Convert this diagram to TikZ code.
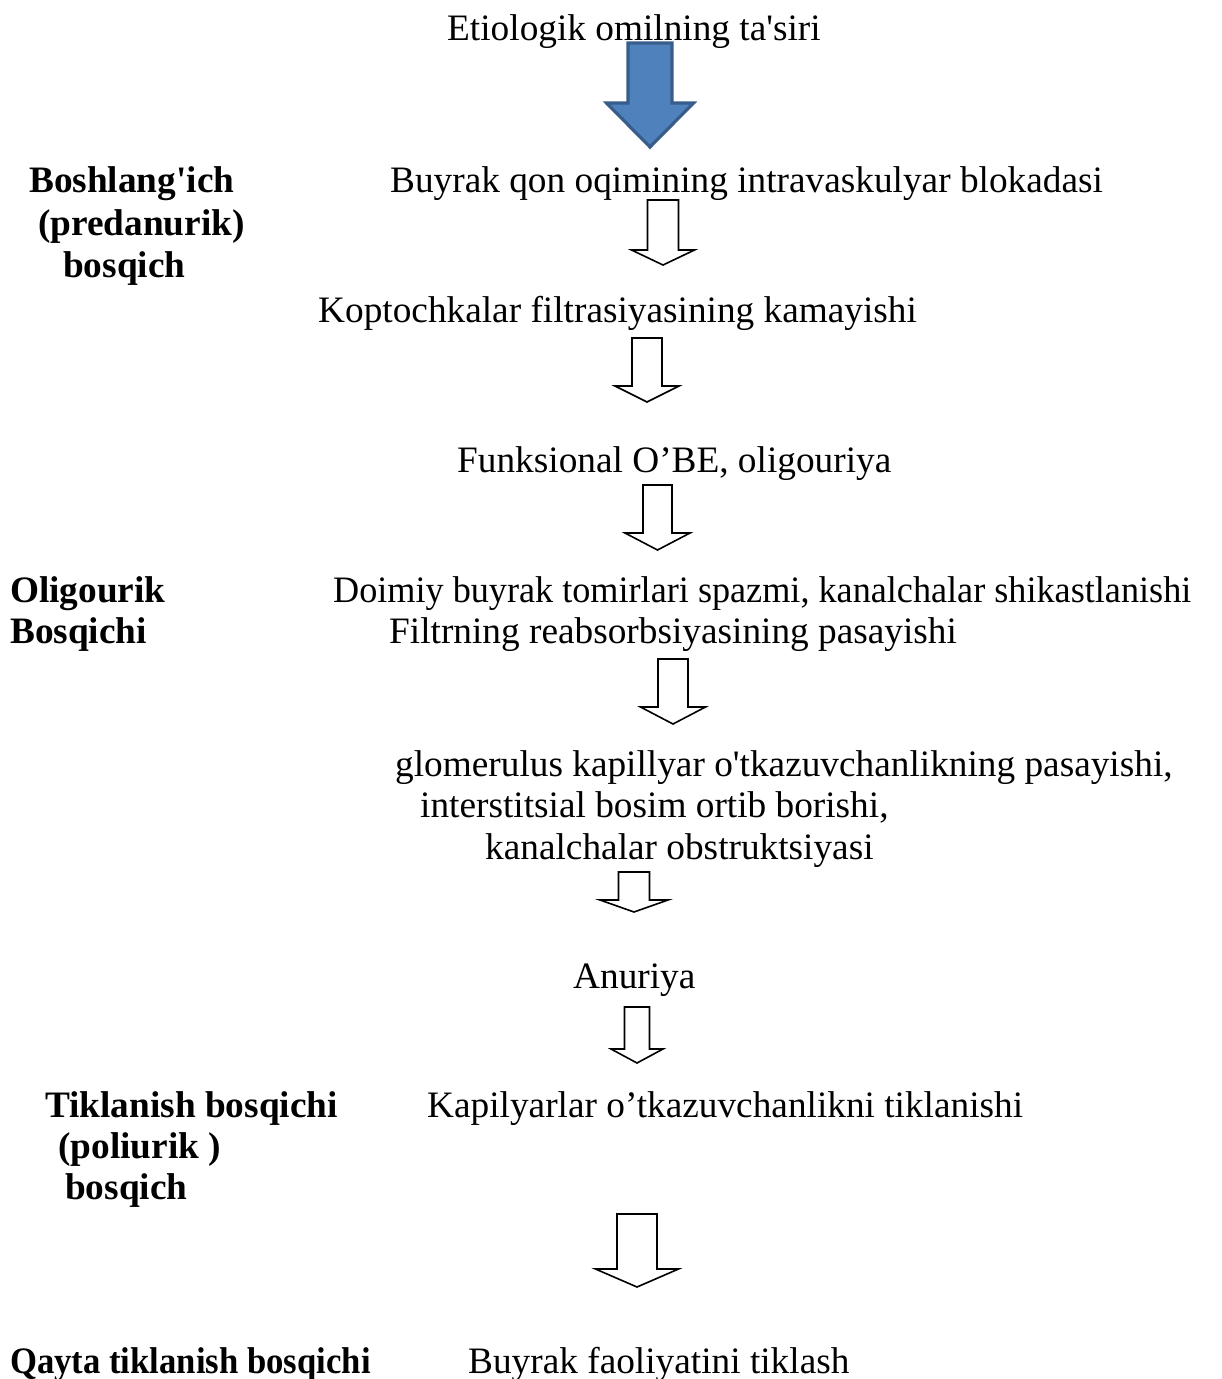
\documentclass[tikz,border=0pt]{standalone}
\usepackage{fontspec}
\setmainfont{Liberation Serif}
\begin{document}
\begin{tikzpicture}[x=1pt,y=-1pt,
  txt/.style={inner sep=0pt,anchor=base west,font=\fontsize{37.3}{42}\selectfont},
  btxt/.style={txt,font=\fontsize{37.3}{42}\selectfont\bfseries},
  barrowline/.style={draw=black,line width=1.6pt,fill=white,line join=miter},
  bluearrow/.style={draw={rgb,255:red,56;green,93;blue,138},fill={rgb,255:red,79;green,129;blue,189},line width=3.2pt,line join=miter},
  pics/barrow/.style n args={5}{code={
    % #1 shaft half width, #2 head half width, #3 head start, #4 length, #5 style
    \path[#5] (-#1,0) -- (#1,0) -- (#1,#3) -- (#2,#3) -- (0,#4) -- (-#2,#3) -- (-#1,#3) -- cycle;
  }}
]
\useasboundingbox (0,0) rectangle (1222,1379);

% texts
\node[txt] (t0) at (447,40) {Etiologik omilning ta\textquotesingle siri};

\node[btxt] (s1a) at (29,192) {Boshlang\textquotesingle ich};
\node[btxt] (s1b) at (38,235) {(predanurik)};
\node[btxt] (s1c) at (63,277) {bosqich};

\node[txt] (t1) at (390,192) {Buyrak qon oqimining intravaskulyar blokadasi};
\node[txt] (t2) at (318,322) {Koptochkalar filtrasiyasining kamayishi};
\node[txt] (t3) at (457,472) {Funksional O’BE, oligouriya};

\node[btxt] (s2a) at (10,602) {Oligourik};
\node[btxt] (s2b) at (10,643) {Bosqichi};

\node[txt,xscale=0.97] (t4a) at (333,602) {Doimiy buyrak tomirlari spazmi, kanalchalar shikastlanishi};
\node[txt] (t4b) at (389,643) {Filtrning reabsorbsiyasining pasayishi};

\node[txt] (t5a) at (395,776) {glomerulus kapillyar o\textquotesingle tkazuvchanlikning pasayishi,};
\node[txt] (t5b) at (420,817) {interstitsial bosim ortib borishi,};
\node[txt] (t5c) at (485,859) {kanalchalar obstruktsiyasi};

\node[txt] (t6) at (573,988) {Anuriya};

\node[btxt] (s3a) at (45,1117) {Tiklanish bosqichi};
\node[btxt] (s3b) at (58,1158) {(poliurik )};
\node[btxt] (s3c) at (65,1199) {bosqich};

\node[txt] (t7) at (427,1117) {Kapilyarlar o’tkazuvchanlikni tiklanishi};

\node[btxt,xscale=0.93] (s4) at (10,1373) {Qayta tiklanish bosqichi};
\node[txt] (t8) at (468,1373) {Buyrak faoliyatini tiklash};

% block arrows
\pic at (650,43)   {barrow={22}{43.5}{60}{104}{bluearrow}};
\pic at (663,200)  {barrow={15.5}{31.5}{50}{65}{barrowline}};
\pic at (647,338)  {barrow={15}{32}{48}{64}{barrowline}};
\pic at (657.5,485){barrow={14.5}{32.5}{48}{65}{barrowline}};
\pic at (673,659)  {barrow={15}{32.5}{48}{65}{barrowline}};
\pic at (634,872)  {barrow={15.5}{34}{28}{40}{barrowline}};
\pic at (637,1007) {barrow={12.5}{26}{42}{56}{barrowline}};
\pic at (637,1214) {barrow={20}{41.5}{55}{73}{barrowline}};
\end{tikzpicture}
\end{document}
